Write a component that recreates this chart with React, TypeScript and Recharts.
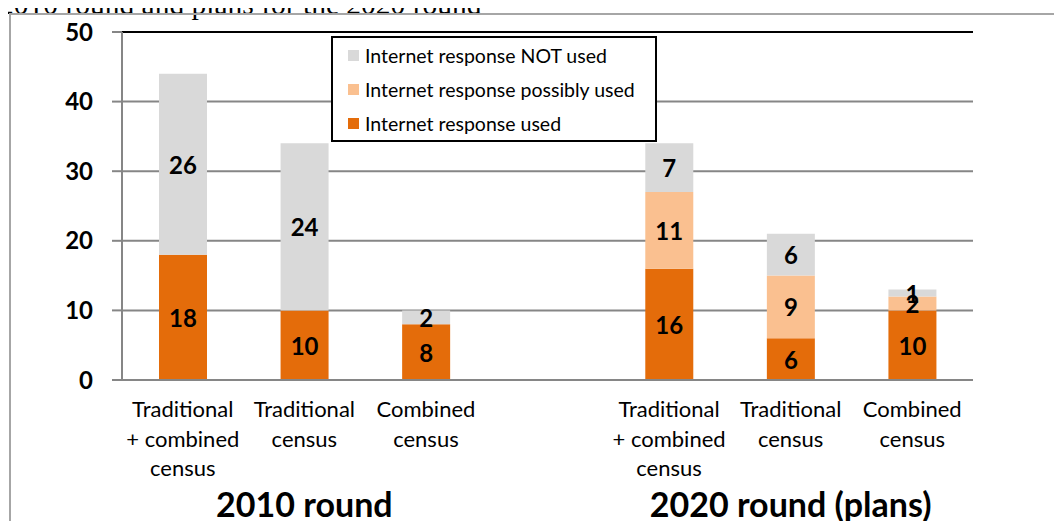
import { BarChart, Bar, XAxis, YAxis, CartesianGrid, Legend, LabelList, ReferenceLine } from "recharts"

// category labels, one entry per slot (empty slot separates the two rounds)
const categoryLines = [
  ["Traditional", "+ combined", "census"],
  ["Traditional", "census"],
  ["Combined", "census"],
  [],
  ["Traditional", "+ combined", "census"],
  ["Traditional", "census"],
  ["Combined", "census"],
]
const usedValues = [18, 10, 8, null, 16, 6, 10]
const possiblyValues = [null, null, null, null, 11, 9, 2]
const notUsedValues = [26, 24, 2, null, 7, 6, 1]
const yTicks = [0, 10, 20, 30, 40, 50]
const groups = [
  { label: "2010 round", first: 0, last: 2 },
  { label: "2020 round (plans)", first: 4, last: 6 },
]
const legendOrder = ["Internet response NOT used", "Internet response possibly used", "Internet response used"]

const ORANGE = "#E46C0A"
const PEACH = "#FAC090"
const GREY = "#D9D9D9"
const AXIS = "#868686"
const FONT = "Lato, 'Noto Sans', sans-serif"

const data = categoryLines.map((lines, i) => ({
  key: String(i),
  used: usedValues[i],
  possibly: possiblyValues[i],
  notUsed: notUsedValues[i],
}))

const edgeTicks = categoryLines.map((_, i) => i).concat(categoryLines.length)

function CategoryTick(props: any) {
  const { x, y, payload } = props
  const idx = Number(payload.value)
  const lines = categoryLines[idx] || []
  const group = groups.find((g) => (g.first + g.last) / 2 === idx)
  return (
    <g>
      <text x={x} y={y} textAnchor="middle" fontFamily={FONT} fontSize={22} fill="#000">
        {lines.map((l, i) => (
          <tspan key={i} x={x} dy={i === 0 ? 29 : 29.5}>
            {l}
          </tspan>
        ))}
      </text>
      {group && (
        <text x={x} y={y + 129} textAnchor="middle" fontFamily={FONT} fontSize={34} fontWeight="bold" fill="#000">
          {group.label}
        </text>
      )}
    </g>
  )
}

function renderValue(props: any) {
  const { x, y, width, height, value } = props
  if (!value) return null
  return (
    <text
      x={Number(x) + Number(width) / 2}
      y={Number(y) + Number(height) / 2}
      textAnchor="middle"
      dominantBaseline="central"
      fontFamily={FONT}
      fontSize={24}
      fontWeight="bold"
      fill="#000"
    >
      {value}
    </text>
  )
}

function LegendBox(props: any) {
  const items = [...(props.payload || [])].sort(
    (a: any, b: any) => legendOrder.indexOf(a.value) - legendOrder.indexOf(b.value)
  )
  return (
    <div
      style={{
        boxSizing: "border-box",
        width: 326,
        height: 106,
        border: "2px solid #000",
        background: "#fff",
        fontFamily: FONT,
        fontSize: 19.5,
        color: "#000",
      }}
    >
      {items.map((it: any) => (
        <div key={it.value} style={{ display: "flex", alignItems: "center", height: 34, paddingLeft: 15, whiteSpace: "nowrap" }}>
          <span style={{ display: "inline-block", width: 11, height: 11, background: it.color, marginRight: 6 }} />
          <span>{it.value}</span>
        </div>
      ))}
    </div>
  )
}

export default function App() {
  return (
    <div style={{ position: "relative", width: 1062, height: 529, margin: -8, overflow: "hidden", background: "#fff" }}>
      <div
        style={{
          position: "absolute",
          left: -1,
          top: -10,
          fontFamily: "'Liberation Serif', 'Times New Roman', serif",
          fontSize: 29.5,
          lineHeight: "29px",
          whiteSpace: "nowrap",
          color: "#000",
        }}
      >
        2010 round and plans for the 2020 round
      </div>
      <div
        style={{
          position: "absolute",
          left: 9,
          top: 13,
          width: 1100,
          height: 600,
          border: "2px solid #a6a6a6",
          boxSizing: "border-box",
        }}
      />
      <div style={{ position: "absolute", left: 0, top: 0 }}>
        <BarChart width={1062} height={529} data={data} margin={{ top: 32, right: 89, bottom: 0, left: 0 }}>
          <CartesianGrid vertical={false} stroke={AXIS} strokeWidth={2} />
          <XAxis
            xAxisId="edges"
            type="number"
            domain={[0, categoryLines.length]}
            ticks={edgeTicks}
            tick={false}
            tickLine={{ stroke: AXIS, strokeWidth: 2 }}
            tickSize={7}
            axisLine={false}
            height={1}
          />
          <XAxis
            xAxisId="cats"
            dataKey="key"
            axisLine={{ stroke: AXIS, strokeWidth: 2 }}
            tickLine={false}
            tick={<CategoryTick />}
            interval={0}
            height={148}
          />
          <YAxis
            domain={[0, 50]}
            ticks={yTicks}
            width={122}
            axisLine={{ stroke: AXIS, strokeWidth: 2 }}
            tickLine={{ stroke: AXIS, strokeWidth: 2 }}
            tickSize={10}
            tickMargin={19}
            tick={{ fontFamily: FONT, fontSize: 24, fontWeight: "bold", fill: "#000" }}
          />
          <ReferenceLine y={50} xAxisId="cats" stroke="#000" strokeWidth={2} />
          <ReferenceLine x={categoryLines.length} xAxisId="edges" stroke="#000" strokeWidth={2} />
          <Legend
            layout="vertical"
            align="center"
            verticalAlign="middle"
            content={<LegendBox />}
            wrapperStyle={{ position: "absolute", left: 331, top: 36, width: 326, height: 106 }}
          />
          <Bar dataKey="used" name="Internet response used" stackId="a" xAxisId="cats" fill={ORANGE} barSize={48} isAnimationActive={false}>
            <LabelList dataKey="used" content={renderValue} />
          </Bar>
          <Bar dataKey="possibly" name="Internet response possibly used" stackId="a" xAxisId="cats" fill={PEACH} barSize={48} isAnimationActive={false}>
            <LabelList dataKey="possibly" content={renderValue} />
          </Bar>
          <Bar dataKey="notUsed" name="Internet response NOT used" stackId="a" xAxisId="cats" fill={GREY} barSize={48} isAnimationActive={false}>
            <LabelList dataKey="notUsed" content={renderValue} />
          </Bar>
        </BarChart>
      </div>
    </div>
  )
}
